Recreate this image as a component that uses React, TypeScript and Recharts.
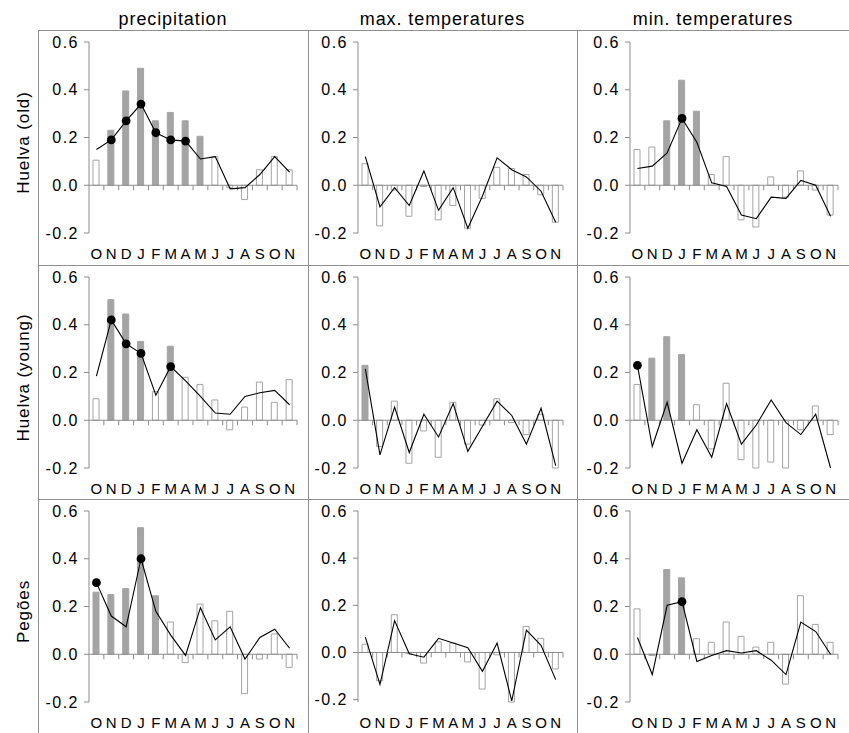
import React from "react";
import { Bar, Cell, ComposedChart, Line, ReferenceLine, XAxis, YAxis } from "recharts";

const months = ["O", "N", "D", "J", "F", "M", "A", "M", "J", "J", "A", "S", "O", "N"];
const yTicks = [-0.2, 0, 0.2, 0.4, 0.6];
const columnTitles = ["precipitation", "max. temperatures", "min. temperatures"];
const siteNames = ["Huelva (old)", "Huelva (young)", "Pegões"];

// Huelva (old)
const oldPrecBars = [0.105, 0.23, 0.395, 0.49, 0.27, 0.305, 0.27, 0.205, 0.12, -0.01, -0.06, 0.065, 0.12, 0.065];
const oldPrecLine = [0.15, 0.19, 0.27, 0.34, 0.22, 0.19, 0.185, 0.11, 0.12, -0.015, -0.01, 0.045, 0.12, 0.055];
const oldPrecBarSig = [1, 2, 3, 4, 5, 6, 7];
const oldPrecLineSig = [1, 2, 3, 4, 5, 6];
const oldTmaxBars = [0.09, -0.17, -0.02, -0.13, -0.005, -0.145, -0.085, -0.18, -0.055, 0.075, 0.07, 0.045, -0.04, -0.155];
const oldTmaxLine = [0.12, -0.09, -0.01, -0.085, 0.06, -0.105, -0.01, -0.18, -0.045, 0.115, 0.065, 0.035, -0.025, -0.155];
const oldTminBars = [0.15, 0.16, 0.27, 0.44, 0.31, 0.045, 0.12, -0.145, -0.175, 0.035, -0.05, 0.06, -0.02, -0.125];
const oldTminLine = [0.07, 0.08, 0.135, 0.28, 0.18, 0.01, -0.005, -0.125, -0.14, -0.05, -0.055, 0.02, 0.0, -0.13];
const oldTminBarSig = [2, 3, 4];
const oldTminLineSig = [3];

// Huelva (young)
const youngPrecBars = [0.09, 0.505, 0.445, 0.33, 0.12, 0.31, 0.18, 0.15, 0.085, -0.04, 0.055, 0.16, 0.075, 0.17];
const youngPrecLine = [0.185, 0.42, 0.32, 0.28, 0.105, 0.225, 0.165, 0.1, 0.03, 0.025, 0.1, 0.115, 0.125, 0.065];
const youngPrecBarSig = [1, 2, 3, 5];
const youngPrecLineSig = [1, 2, 3, 5];
const youngTmaxBars = [0.23, -0.11, 0.08, -0.18, -0.045, -0.155, 0.075, -0.1, -0.02, 0.09, -0.01, -0.06, 0.025, -0.2];
const youngTmaxLine = [0.215, -0.145, 0.055, -0.135, 0.025, -0.07, 0.07, -0.13, -0.025, 0.08, 0.02, -0.1, 0.05, -0.19];
const youngTmaxBarSig = [0];
const youngTminBars = [0.15, 0.26, 0.35, 0.275, 0.065, -0.12, 0.155, -0.165, -0.2, -0.175, -0.2, -0.04, 0.06, -0.06];
const youngTminLine = [0.23, -0.11, 0.075, -0.18, -0.04, -0.155, 0.07, -0.1, -0.02, 0.085, -0.01, -0.06, 0.025, -0.2];
const youngTminBarSig = [1, 2, 3];
const youngTminLineSig = [0];

// Pegões
const pegPrecBars = [0.26, 0.25, 0.275, 0.53, 0.245, 0.135, -0.035, 0.21, 0.14, 0.18, -0.165, -0.02, 0.085, -0.055];
const pegPrecLine = [0.3, 0.16, 0.115, 0.4, 0.18, 0.08, -0.005, 0.195, 0.06, 0.115, -0.02, 0.07, 0.105, 0.025];
const pegPrecBarSig = [0, 1, 2, 3, 4];
const pegPrecLineSig = [0, 3];
const pegTmaxBars = [0.035, -0.12, 0.16, -0.005, -0.045, 0.045, 0.04, -0.04, -0.155, -0.01, -0.21, 0.11, 0.06, -0.07];
const pegTmaxLine = [0.065, -0.135, 0.135, -0.005, -0.02, 0.06, 0.04, 0.02, -0.08, 0.04, -0.205, 0.095, 0.03, -0.115];
const pegTminBars = [0.19, -0.005, 0.355, 0.32, 0.065, 0.05, 0.135, 0.075, 0.03, 0.05, -0.125, 0.245, 0.125, 0.05];
const pegTminLine = [0.07, -0.085, 0.205, 0.22, -0.03, -0.005, 0.015, 0.005, 0.015, -0.025, -0.085, 0.135, 0.095, 0.0];
const pegTminBarSig = [2, 3];
const pegTminLineSig = [3];

type PanelData = { bars: number[]; line: number[]; barSig: number[]; lineSig: number[] };

const panels: PanelData[][] = [
  [
    { bars: oldPrecBars, line: oldPrecLine, barSig: oldPrecBarSig, lineSig: oldPrecLineSig },
    { bars: oldTmaxBars, line: oldTmaxLine, barSig: [], lineSig: [] },
    { bars: oldTminBars, line: oldTminLine, barSig: oldTminBarSig, lineSig: oldTminLineSig },
  ],
  [
    { bars: youngPrecBars, line: youngPrecLine, barSig: youngPrecBarSig, lineSig: youngPrecLineSig },
    { bars: youngTmaxBars, line: youngTmaxLine, barSig: youngTmaxBarSig, lineSig: [] },
    { bars: youngTminBars, line: youngTminLine, barSig: youngTminBarSig, lineSig: youngTminLineSig },
  ],
  [
    { bars: pegPrecBars, line: pegPrecLine, barSig: pegPrecBarSig, lineSig: pegPrecLineSig },
    { bars: pegTmaxBars, line: pegTmaxLine, barSig: [], lineSig: [] },
    { bars: pegTminBars, line: pegTminLine, barSig: pegTminBarSig, lineSig: pegTminLineSig },
  ],
];

// grid geometry (px)
const colX = [38, 308, 577];
const colW = [270, 269, 272];
const colLeft = [51, 50, 53];
const colRight = [11, 14, 11];
const rowY = [31, 266, 500];
const rowH = [235, 234, 233];
const PLOT_TOP = 11;
const PLOT_BOTTOM = 202;

const FONT = "'Liberation Sans', Arial, sans-serif";
const AXIS = "#8c8c8c";
const BAR_GREY = "#a4a4a4";
const FRAME = "#8f8f8f";

// zero line drawn through the reference line, with ticks at month boundaries
function ZeroAxis(props: any) {
  const { x1, y1, x2 } = props;
  const step = (x2 - x1) / months.length;
  return (
    <g>
      <line x1={x1} y1={y1} x2={x2} y2={y1} stroke={AXIS} strokeWidth={1} />
      {months.map((_, i) => (
        <line
          key={i}
          x1={x1 + step * (i + 1)}
          x2={x1 + step * (i + 1)}
          y1={y1}
          y2={y1 + 5}
          stroke={AXIS}
          strokeWidth={1}
        />
      ))}
    </g>
  );
}

function Panel({ p, width, height, left, right }: { p: PanelData; width: number; height: number; left: number; right: number }) {
  const data = months.map((m, i) => ({ i, bar: p.bars[i], line: p.line[i] }));
  const renderDot = (d: any) =>
    p.lineSig.includes(d.index) ? (
      <circle key={d.index} cx={d.cx} cy={d.cy} r={4.4} fill="#000" />
    ) : (
      <g key={d.index} />
    );
  return (
    <ComposedChart
      width={width}
      height={height}
      data={data}
      barSize={6}
      margin={{ top: PLOT_TOP, right, left: left - 40, bottom: height - PLOT_BOTTOM - 30 }}
    >
      <XAxis
        dataKey="i"
        type="category"
        interval={0}
        axisLine={false}
        tickLine={false}
        tickMargin={9}
        height={30}
        tickFormatter={(i: number) => months[i]}
        tick={{ fill: "#000", fontSize: 15, fontFamily: FONT }}
      />
      <YAxis
        type="number"
        domain={[-0.2, 0.6]}
        ticks={yTicks}
        width={40}
        tickSize={5}
        tickMargin={5}
        axisLine={{ stroke: AXIS }}
        tickLine={{ stroke: AXIS }}
        tickFormatter={(v: number) => v.toFixed(1)}
        tick={{ fill: "#000", fontSize: 16, fontFamily: FONT, letterSpacing: 1.5 }}
      />
      <ReferenceLine y={0} stroke={AXIS} shape={ZeroAxis} />
      <Bar dataKey="bar" isAnimationActive={false}>
        {data.map((d) => {
          const sig = p.barSig.includes(d.i);
          return <Cell key={d.i} fill={sig ? BAR_GREY : "#fff"} stroke={BAR_GREY} strokeWidth={1} />;
        })}
      </Bar>
      <Line
        dataKey="line"
        type="linear"
        stroke="#000"
        strokeWidth={1.1}
        dot={renderDot}
        activeDot={false}
        isAnimationActive={false}
      />
    </ComposedChart>
  );
}

export default function App() {
  return (
    <div style={{ position: "relative", width: 849, height: 733, background: "#fff", fontFamily: FONT }}>
      <style>{"body{margin:0}"}</style>
      <svg width={849} height={733} style={{ position: "absolute", left: 0, top: 0 }}>
        <line x1={38.5} y1={30.5} x2={38.5} y2={733} stroke={FRAME} />
        <line x1={308.5} y1={30.5} x2={308.5} y2={733} stroke={FRAME} />
        <line x1={577.5} y1={30.5} x2={577.5} y2={733} stroke={FRAME} />
        {rowY.map((y) => (
          <line key={y} x1={38} y1={y - 0.5} x2={849} y2={y - 0.5} stroke={FRAME} />
        ))}
        {columnTitles.map((t, c) => (
          <text
            key={t}
            x={colX[c] + colW[c] / 2}
            y={25}
            textAnchor="middle"
            fontSize={18}
            letterSpacing={0.9}
            fontFamily={FONT}
            fill="#000"
          >
            {t}
          </text>
        ))}
        {siteNames.map((s, r) => {
          const cy = rowY[r] + (PLOT_TOP + PLOT_BOTTOM) / 2 + 5;
          return (
            <text
              key={s}
              transform={`translate(28.5 ${cy}) rotate(-90)`}
              textAnchor="middle"
              fontSize={17}
              letterSpacing={0.9}
              fontFamily={FONT}
              fill="#000"
            >
              {s}
            </text>
          );
        })}
      </svg>
      {panels.map((row, r) =>
        row.map((p, c) => (
          <div key={`${r}-${c}`} style={{ position: "absolute", left: colX[c], top: rowY[r] }}>
            <Panel p={p} width={colW[c]} height={rowH[r]} left={colLeft[c]} right={colRight[c]} />
          </div>
        ))
      )}
    </div>
  );
}
